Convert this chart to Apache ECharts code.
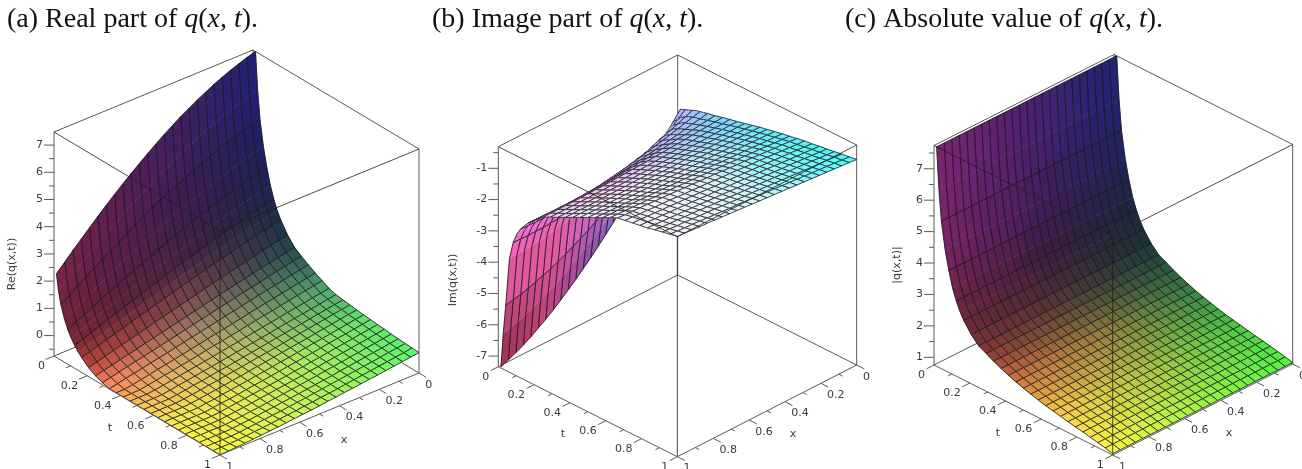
<!DOCTYPE html>
<html><head><meta charset="utf-8"><style>html,body{margin:0;background:#fff}#c{width:1302px;height:469px}</style>
<script src="https://cdn.jsdelivr.net/npm/echarts@6/dist/echarts.min.js"></script></head><body><div id="c"></div>
<script>
const xGrid=[0,.0417,.0833,.125,.1667,.2083,.25,.2917,.3333,.375,.4167,.4583,.5,.5417,.5833,.625,.6667,.7083,.75,.7917,.8333,.875,.9167,.9583,1];
const tGrid=[.015,.028,.0417,.0625,.0833,.1042,.125,.1458,.1667,.2083,.25,.2917,.3333,.375,.4167,.4583,.5,.5417,.5833,.625,.6667,.7083,.75,.7917,.8333,.875,.9167,.9583,1];
const tMinorRows=[1,3,5,7];
const absT=[7.74,6.4,5.45,4.6,4.0,3.5,3.15,2.87,2.65,2.32,2.08,1.96,1.83,1.72,1.62,1.53,1.45,1.38,1.31,1.25,1.20,1.15,1.10,1.05,1.01,.96,.91,.86,.80];
const reQ=[
[7.48,7.39,7.28,7.17,7.04,6.90,6.74,6.58,6.40,6.22,6.02,5.81,5.59,5.36,5.12,4.88,4.62,4.36,4.09,3.81,3.52,3.23,2.94,2.63,2.33],
[6.09,6.01,5.91,5.81,5.69,5.57,5.43,5.29,5.13,4.97,4.80,4.62,4.44,4.24,4.04,3.84,3.62,3.40,3.18,2.95,2.71,2.47,2.22,1.98,1.72],
[5.10,5.01,4.92,4.82,4.72,4.60,4.48,4.35,4.22,4.07,3.93,3.77,3.61,3.44,3.27,3.09,2.90,2.71,2.52,2.32,2.12,1.92,1.71,1.50,1.29],
[4.16,4.08,3.99,3.90,3.80,3.70,3.59,3.47,3.35,3.22,3.09,2.95,2.81,2.67,2.52,2.36,2.21,2.05,1.88,1.72,1.55,1.38,1.20,1.03,.85],
[3.47,3.39,3.31,3.22,3.13,3.03,2.93,2.82,2.71,2.60,2.48,2.36,2.23,2.10,1.97,1.84,1.70,1.56,1.42,1.28,1.13,.98,.83,.68,.53],
[2.89,2.82,2.74,2.66,2.57,2.48,2.38,2.29,2.19,2.09,1.98,1.87,1.76,1.65,1.53,1.41,1.29,1.17,1.05,.92,.80,.67,.54,.41,.28],
[2.46,2.38,2.31,2.23,2.15,2.06,1.98,1.89,1.79,1.70,1.60,1.50,1.40,1.30,1.19,1.09,.98,.87,.76,.65,.54,.43,.32,.20,.09],
[2.11,2.04,1.96,1.89,1.81,1.73,1.65,1.56,1.48,1.39,1.30,1.21,1.12,1.02,.93,.83,.73,.63,.54,.44,.34,.23,.13,.03,-.07],
[1.85,1.78,1.71,1.64,1.56,1.49,1.41,1.33,1.25,1.16,1.08,.99,.90,.81,.72,.63,.54,.45,.36,.26,.17,.08,-.02,-.11,-.20],
[1.44,1.38,1.31,1.24,1.17,1.10,1.02,.95,.87,.80,.72,.64,.56,.48,.40,.32,.24,.15,.07,-.01,-.09,-.17,-.26,-.34,-.42],
[1.14,1.07,1.01,.94,.88,.81,.74,.67,.60,.53,.46,.38,.31,.24,.16,.09,.02,-.06,-.13,-.21,-.28,-.35,-.43,-.50,-.57],
[.96,.90,.84,.78,.71,.64,.58,.51,.44,.37,.30,.23,.16,.09,.02,-.05,-.12,-.19,-.26,-.33,-.39,-.46,-.53,-.60,-.67],
[.80,.74,.68,.61,.55,.49,.43,.36,.30,.23,.17,.10,.03,-.03,-.10,-.16,-.23,-.30,-.36,-.42,-.49,-.55,-.61,-.68,-.74],
[.65,.59,.53,.47,.41,.35,.29,.23,.17,.10,.04,-.02,-.08,-.14,-.21,-.27,-.33,-.39,-.45,-.51,-.57,-.63,-.69,-.74,-.74],
[.52,.46,.40,.35,.29,.23,.17,.12,.06,.00,-.06,-.12,-.18,-.23,-.29,-.35,-.41,-.46,-.52,-.57,-.63,-.68,-.73,-.74,-.74],
[.39,.34,.29,.23,.18,.13,.07,.02,-.03,-.09,-.14,-.20,-.25,-.30,-.36,-.41,-.46,-.51,-.56,-.61,-.66,-.71,-.74,-.74,-.74],
[.31,.26,.21,.16,.11,.06,.01,-.04,-.10,-.15,-.20,-.25,-.30,-.35,-.40,-.45,-.50,-.55,-.59,-.64,-.69,-.73,-.74,-.74,-.74],
[.27,.22,.17,.12,.07,.02,-.03,-.08,-.13,-.18,-.23,-.28,-.33,-.38,-.43,-.47,-.52,-.57,-.61,-.66,-.70,-.74,-.74,-.74,-.74],
[.24,.19,.14,.09,.04,-.01,-.06,-.11,-.16,-.21,-.26,-.30,-.35,-.40,-.45,-.49,-.54,-.58,-.63,-.67,-.71,-.74,-.74,-.74,-.74],
[.20,.16,.11,.06,.01,-.04,-.09,-.14,-.18,-.23,-.28,-.33,-.37,-.42,-.47,-.51,-.56,-.60,-.64,-.68,-.72,-.74,-.74,-.74,-.74],
[.17,.13,.08,.03,-.02,-.07,-.11,-.16,-.21,-.26,-.30,-.35,-.40,-.44,-.49,-.53,-.57,-.61,-.66,-.69,-.73,-.74,-.74,-.74,-.74],
[.15,.10,.05,.00,-.04,-.09,-.14,-.19,-.23,-.28,-.32,-.37,-.41,-.46,-.50,-.54,-.59,-.63,-.66,-.70,-.74,-.74,-.74,-.74,-.74],
[.12,.07,.03,-.02,-.07,-.11,-.16,-.21,-.25,-.30,-.34,-.39,-.43,-.47,-.51,-.55,-.59,-.63,-.67,-.71,-.74,-.74,-.74,-.74,-.74],
[.10,.05,.00,-.04,-.09,-.13,-.18,-.22,-.27,-.31,-.36,-.40,-.44,-.48,-.52,-.56,-.60,-.64,-.67,-.71,-.74,-.74,-.74,-.74,-.74],
[.07,.03,-.02,-.06,-.11,-.15,-.20,-.24,-.28,-.33,-.37,-.41,-.45,-.49,-.53,-.57,-.61,-.64,-.68,-.71,-.74,-.74,-.74,-.74,-.74],
[.05,.01,-.04,-.08,-.12,-.17,-.21,-.25,-.30,-.34,-.38,-.42,-.46,-.50,-.53,-.57,-.60,-.64,-.67,-.70,-.73,-.74,-.74,-.74,-.74],
[.03,-.01,-.05,-.10,-.14,-.18,-.22,-.26,-.30,-.34,-.38,-.42,-.46,-.50,-.53,-.57,-.60,-.63,-.66,-.69,-.72,-.74,-.74,-.74,-.74],
[.02,-.03,-.07,-.11,-.15,-.19,-.23,-.27,-.31,-.35,-.39,-.42,-.46,-.49,-.53,-.56,-.59,-.62,-.65,-.67,-.70,-.72,-.74,-.74,-.74],
[.00,-.04,-.08,-.12,-.16,-.20,-.23,-.27,-.31,-.34,-.38,-.41,-.45,-.48,-.51,-.54,-.57,-.60,-.62,-.65,-.67,-.69,-.71,-.73,-.74]];
const imQ=[
[-2.00,-2.29,-2.58,-2.87,-3.16,-3.44,-3.72,-4.00,-4.27,-4.53,-4.79,-5.04,-5.28,-5.51,-5.73,-5.94,-6.14,-6.33,-6.51,-6.67,-6.83,-6.97,-7.09,-7.20,-7.30],
[-1.97,-2.21,-2.44,-2.68,-2.91,-3.14,-3.37,-3.59,-3.81,-4.02,-4.23,-4.43,-4.62,-4.81,-4.99,-5.15,-5.31,-5.46,-5.60,-5.73,-5.85,-5.95,-6.05,-6.13,-6.20],
[-1.94,-2.13,-2.32,-2.51,-2.69,-2.88,-3.06,-3.24,-3.41,-3.58,-3.75,-3.91,-4.06,-4.21,-4.34,-4.47,-4.60,-4.71,-4.82,-4.91,-5.00,-5.08,-5.15,-5.20,-5.25],
[-1.89,-2.00,-2.12,-2.23,-2.35,-2.46,-2.57,-2.68,-2.78,-2.88,-2.97,-3.06,-3.15,-3.23,-3.31,-3.38,-3.44,-3.50,-3.55,-3.59,-3.63,-3.66,-3.68,-3.69,-3.70],
[-1.84,-1.93,-2.03,-2.12,-2.21,-2.30,-2.39,-2.47,-2.55,-2.63,-2.70,-2.77,-2.83,-2.89,-2.94,-2.99,-3.03,-3.07,-3.10,-3.12,-3.14,-3.14,-3.15,-3.14,-3.13],
[-1.79,-1.86,-1.94,-2.01,-2.09,-2.16,-2.23,-2.30,-2.36,-2.42,-2.48,-2.54,-2.59,-2.63,-2.67,-2.71,-2.74,-2.77,-2.79,-2.80,-2.81,-2.82,-2.82,-2.81,-2.80],
[-1.76,-1.82,-1.88,-1.95,-2.01,-2.07,-2.13,-2.18,-2.24,-2.29,-2.34,-2.38,-2.42,-2.46,-2.49,-2.52,-2.55,-2.57,-2.58,-2.60,-2.60,-2.60,-2.60,-2.59,-2.58],
[-1.73,-1.78,-1.84,-1.89,-1.95,-2.00,-2.05,-2.10,-2.14,-2.19,-2.23,-2.27,-2.30,-2.33,-2.36,-2.39,-2.41,-2.42,-2.43,-2.44,-2.45,-2.45,-2.44,-2.43,-2.42],
[-1.70,-1.75,-1.79,-1.84,-1.89,-1.93,-1.97,-2.01,-2.05,-2.09,-2.12,-2.16,-2.18,-2.21,-2.23,-2.25,-2.27,-2.28,-2.29,-2.30,-2.30,-2.30,-2.29,-2.28,-2.27],
[-1.65,-1.68,-1.71,-1.74,-1.77,-1.79,-1.82,-1.85,-1.87,-1.90,-1.92,-1.94,-1.96,-1.98,-2.00,-2.01,-2.02,-2.03,-2.04,-2.05,-2.05,-2.05,-2.05,-2.04,-2.04],
[-1.59,-1.61,-1.63,-1.64,-1.66,-1.68,-1.70,-1.71,-1.73,-1.74,-1.76,-1.77,-1.78,-1.79,-1.80,-1.81,-1.82,-1.82,-1.83,-1.83,-1.84,-1.84,-1.84,-1.84,-1.84],
[-1.53,-1.55,-1.56,-1.57,-1.58,-1.60,-1.61,-1.62,-1.63,-1.64,-1.65,-1.66,-1.67,-1.68,-1.69,-1.70,-1.70,-1.71,-1.71,-1.72,-1.72,-1.72,-1.72,-1.72,-1.72],
[-1.48,-1.48,-1.49,-1.50,-1.51,-1.52,-1.52,-1.53,-1.54,-1.55,-1.55,-1.56,-1.57,-1.57,-1.58,-1.58,-1.59,-1.59,-1.60,-1.60,-1.60,-1.61,-1.61,-1.61,-1.61],
[-1.42,-1.42,-1.43,-1.43,-1.43,-1.44,-1.44,-1.45,-1.45,-1.45,-1.46,-1.46,-1.46,-1.47,-1.47,-1.47,-1.48,-1.48,-1.48,-1.48,-1.49,-1.49,-1.49,-1.49,-1.49],
[-1.36,-1.36,-1.36,-1.36,-1.36,-1.36,-1.36,-1.36,-1.36,-1.36,-1.37,-1.37,-1.37,-1.37,-1.37,-1.37,-1.37,-1.37,-1.37,-1.37,-1.37,-1.37,-1.37,-1.37,-1.37],
[-1.30,-1.30,-1.30,-1.29,-1.29,-1.29,-1.29,-1.28,-1.28,-1.28,-1.28,-1.28,-1.27,-1.27,-1.27,-1.27,-1.27,-1.26,-1.26,-1.26,-1.26,-1.26,-1.26,-1.25,-1.25],
[-1.25,-1.24,-1.24,-1.23,-1.23,-1.22,-1.22,-1.21,-1.21,-1.20,-1.20,-1.19,-1.19,-1.18,-1.18,-1.17,-1.17,-1.16,-1.16,-1.15,-1.15,-1.15,-1.14,-1.14,-1.14],
[-1.20,-1.19,-1.18,-1.17,-1.16,-1.16,-1.15,-1.15,-1.14,-1.13,-1.12,-1.12,-1.11,-1.10,-1.09,-1.09,-1.08,-1.07,-1.06,-1.06,-1.05,-1.04,-1.04,-1.03,-1.02],
[-1.15,-1.14,-1.13,-1.12,-1.10,-1.09,-1.08,-1.07,-1.06,-1.04,-1.03,-1.02,-1.01,-1.00,-.99,-.98,-.97,-.96,-.95,-.94,-.93,-.92,-.91,-.91,-.90],
[-1.11,-1.09,-1.08,-1.06,-1.04,-1.03,-1.01,-1.00,-.98,-.97,-.95,-.94,-.92,-.91,-.90,-.88,-.87,-.86,-.85,-.83,-.82,-.81,-.80,-.79,-.78],
[-1.06,-1.04,-1.02,-1.01,-.99,-.97,-.95,-.93,-.92,-.90,-.88,-.86,-.85,-.83,-.81,-.80,-.78,-.77,-.75,-.74,-.72,-.71,-.70,-.69,-.67],
[-1.02,-1.01,-.99,-.97,-.95,-.93,-.91,-.90,-.88,-.86,-.84,-.83,-.81,-.79,-.78,-.76,-.75,-.73,-.71,-.70,-.69,-.67,-.66,-.64,-.63],
[-.99,-.97,-.95,-.93,-.91,-.90,-.88,-.86,-.84,-.83,-.81,-.79,-.77,-.76,-.74,-.72,-.71,-.69,-.68,-.66,-.65,-.63,-.62,-.60,-.59],
[-.95,-.93,-.91,-.90,-.88,-.86,-.84,-.82,-.81,-.79,-.77,-.75,-.74,-.72,-.70,-.69,-.67,-.65,-.64,-.62,-.61,-.59,-.58,-.56,-.55],
[-.92,-.90,-.88,-.86,-.84,-.82,-.81,-.79,-.77,-.75,-.73,-.72,-.70,-.68,-.66,-.65,-.63,-.61,-.60,-.58,-.57,-.55,-.54,-.52,-.51],
[-.88,-.86,-.84,-.82,-.80,-.78,-.77,-.75,-.73,-.71,-.69,-.67,-.66,-.64,-.62,-.60,-.59,-.57,-.55,-.53,-.52,-.50,-.49,-.47,-.45],
[-.84,-.82,-.80,-.78,-.77,-.75,-.73,-.71,-.69,-.67,-.65,-.63,-.61,-.60,-.58,-.56,-.54,-.52,-.50,-.49,-.47,-.45,-.44,-.42,-.40],
[-.81,-.79,-.77,-.75,-.73,-.71,-.69,-.67,-.65,-.63,-.61,-.59,-.57,-.55,-.53,-.51,-.50,-.48,-.46,-.44,-.42,-.40,-.39,-.37,-.35],
[-.77,-.75,-.73,-.71,-.69,-.67,-.65,-.63,-.61,-.59,-.57,-.55,-.53,-.51,-.49,-.47,-.45,-.43,-.41,-.39,-.37,-.36,-.34,-.32,-.30]];
const abQ=absT.map(v=>xGrid.map(()=>v));
const colorT=[0,.06,.12,.2,.3,.45,.7,1], colorX=[0,.25,.5,.75,1];
const colorsA=[[[35,35,130],[55,35,115],[75,30,100],[100,30,88],[125,38,78]],
[[30,30,95],[50,30,85],[70,30,80],[90,30,70],[115,35,60]],
[[28,40,75],[50,35,70],[75,35,65],[95,35,60],[125,40,55]],
[[30,55,72],[70,60,75],[120,70,75],[150,65,68],[185,70,60]],
[[45,95,90],[95,110,95],[150,125,105],[200,125,100],[250,130,95]],
[[78,165,112],[125,170,105],[185,180,108],[225,180,100],[250,180,90]],
[[98,225,112],[150,232,100],[200,230,95],[235,230,85],[245,235,80]],
[[90,245,110],[140,245,100],[185,245,95],[225,245,85],[250,250,70]]];
const colorsB=[[[165,170,255],[120,110,200],[110,65,150],[170,55,105],[115,25,40]],
[[175,190,255],[190,160,245],[215,110,210],[235,95,165],[240,95,175]],
[[150,195,255],[190,175,250],[225,150,240],[240,115,225],[240,115,225]],
[[135,205,255],[180,190,250],[225,180,245],[245,170,240],[235,165,245]],
[[120,215,255],[170,205,250],[225,205,245],[245,205,245],[235,205,250]],
[[100,230,250],[170,225,250],[225,230,250],[245,235,250],[240,235,250]],
[[80,245,250],[150,240,250],[215,240,250],[240,240,250],[240,240,250]],
[[70,250,250],[130,250,250],[200,245,250],[235,245,250],[240,240,245]]];
const colorsC=[[[35,35,130],[55,35,130],[80,35,125],[105,35,125],[125,35,120]],
[[30,35,90],[50,32,92],[70,30,95],[95,32,98],[120,35,100]],
[[25,40,60],[42,35,62],[60,30,65],[85,32,68],[110,35,70]],
[[28,50,60],[48,48,58],[70,45,55],[90,42,55],[110,42,55]],
[[38,85,65],[65,82,60],[95,80,55],[118,70,55],[140,60,55]],
[[55,130,72],[100,130,68],[150,130,65],[180,122,65],[205,115,65]],
[[70,200,70],[118,198,70],[170,195,70],[215,200,72],[250,205,75]],
[[85,245,70],[120,245,70],[160,245,70],[205,248,70],[250,250,70]]];
const zTicksA=[0,1,2,3,4,5,6,7], zTicksB=[-7,-6,-5,-4,-3,-2,-1], zTicksC=[1,2,3,4,5,6,7];
const tickVals=[0,.2,.4,.6,.8,1], tickLabels=['0','0.2','0.4','0.6','0.8','1'];
const panels=[
 {rows:reQ,colors:colorsA,L:[54,356],R:[419,373],F:[220,455],H:224,zMin:-.75,zMax:7.48,zTicks:zTicksA,zStep:.5,zName:'Re(q(x,t))',zNameX:12.5,zNameY:264,tName:[110,428],xName:[344,440],title:'a',titleText:'Real part of ',tx:7},
 {rows:imQ,colors:colorsB,L:[498.3,366.7],R:[856.7,365],F:[677.3,456.7],H:220,zMin:-7.34,zMax:-.31,zTicks:zTicksB,zStep:.5,zName:'Im(q(x,t))',zNameX:453,zNameY:280,tName:[563,434],xName:[793,434],title:'b',titleText:'Image part of ',tx:432},
 {rows:abQ,colors:colorsC,L:[934,365],R:[1292.7,364],F:[1112.7,455],H:219.5,zMin:.755,zMax:7.74,zTicks:zTicksC,zStep:.5,zName:'|q(x,t)|',zNameX:897,zNameY:265,tName:[998,433],xName:[1229,433],title:'c',titleText:'Absolute value of ',tx:845}];
const Nx=xGrid.length,Nt=tGrid.length;
function proj(p,x,t,z){const n=(z-p.zMin)/(p.zMax-p.zMin);
 const Bx=p.L[0]+p.R[0]-p.F[0],By=p.L[1]+p.R[1]-p.F[1];
 return [Bx+x*(p.L[0]-Bx)+t*(p.R[0]-Bx),By+x*(p.L[1]-By)+t*(p.R[1]-By)-n*p.H];}
function colorAt(p,x,t){let a=0;while(a<colorT.length-2&&t>colorT[a+1])a++;let b=0;while(b<colorX.length-2&&x>colorX[b+1])b++;
 const u=Math.min(1,(t-colorT[a])/(colorT[a+1]-colorT[a])),v=(x-colorX[b])/(colorX[b+1]-colorX[b]);
 const c=[0,1,2].map(k=>Math.round((1-u)*((1-v)*p.colors[a][b][k]+v*p.colors[a][b+1][k])+u*((1-v)*p.colors[a+1][b][k]+v*p.colors[a+1][b+1][k])));
 return `rgb(${c})`;}
const LINE='#5a5a5a',TXT='#3a3a3a',FONT='11px "DejaVu Sans"',MESH='rgba(25,25,25,.8)';
function seg(api,a,b,col,w){const A=api.coord(a),B=api.coord(b);return {type:'line',shape:{x1:A[0],y1:A[1],x2:B[0],y2:B[1]},style:{stroke:col||LINE,lineWidth:w||1,fill:null}};}
function txt(api,a,s,align,rot){const A=api.coord(a);const o={type:'text',x:A[0],y:A[1],style:{text:s,fill:TXT,font:FONT,align:align||'center',verticalAlign:'middle'}};if(rot)o.rotation=rot;return o;}
function surfaceSeries(p){const data=[];for(let j=0;j<Nt-1;j++)for(let i=0;i<Nx-1;i++)data.push([i,j]);
 return {type:'custom',coordinateSystem:'cartesian2d',silent:true,clip:false,animation:false,z:3,data,encode:{x:0,y:1},renderItem(_,api){const i=api.value(0),j=api.value(1);
  const c=[[i,j],[i+1,j],[i+1,j+1],[i,j+1]].map(([a,b])=>api.coord(proj(p,xGrid[a],tGrid[b],p.rows[b][a])));
  const col=colorAt(p,(xGrid[i]+xGrid[i+1])/2,(tGrid[j]+tGrid[j+1])/2);
  const ln=(a,b)=>({type:'line',shape:{x1:a[0],y1:a[1],x2:b[0],y2:b[1]},style:{stroke:MESH,lineWidth:1,fill:null}});
  const ch=[{type:'polygon',shape:{points:c},style:{fill:col,stroke:col,lineWidth:.5}},ln(c[1],c[2]),ln(c[3],c[0])];
  if(!tMinorRows.includes(j))ch.push(ln(c[0],c[1]));if(!tMinorRows.includes(j+1))ch.push(ln(c[3],c[2]));
  return {type:'group',children:ch};}};}
function backSeries(p){return {type:'custom',coordinateSystem:'cartesian2d',silent:true,clip:false,animation:false,z:2,data:[[0,0]],encode:{x:0,y:1},renderItem(_,api){
 const a=p.zMin,b=p.zMax,ch=[];const P=(x,t,z)=>proj(p,x,t,z);
 ch.push(seg(api,P(0,0,a),P(1,0,a)),seg(api,P(0,0,a),P(0,1,a)),seg(api,P(0,0,a),P(0,0,b)),seg(api,P(1,0,b),P(0,0,b)),seg(api,P(0,1,b),P(0,0,b)),seg(api,P(0,1,a),P(0,1,b)),seg(api,P(1,0,a),P(1,0,b)));
 return {type:'group',children:ch};}};}
function frontSeries(p){return {type:'custom',coordinateSystem:'cartesian2d',silent:true,clip:false,animation:false,z:4,data:[[0,0]],encode:{x:0,y:1},renderItem(_,api){
 const a=p.zMin,b=p.zMax,ch=[];const P=(x,t,z)=>proj(p,x,t,z);
 const dk='rgba(30,30,30,.8)';
 ch.push(seg(api,P(1,1,a),P(1,1,b),dk),seg(api,P(1,0,b),P(1,1,b),dk),seg(api,P(0,1,b),P(1,1,b),dk),seg(api,P(1,0,a),P(1,1,a)),seg(api,P(0,1,a),P(1,1,a)));
 const L=P(1,0,a);
 const topZ=Math.floor(b/p.zStep)*p.zStep;
 for(let z=Math.ceil(a/p.zStep)*p.zStep;z<=topZ+1e-6;z+=p.zStep){const q=P(1,0,z),maj=Math.abs(z-Math.round(z))<1e-6;
  ch.push(seg(api,q,[q[0]-(maj?10:5),q[1]]));}
 p.zTicks.forEach(z=>{const q=P(1,0,z);ch.push(txt(api,[q[0]-11,q[1]],String(z),'right'));});
 const Bx=P(0,0,a);const ex=[L[0]-Bx[0],L[1]-Bx[1]],Rr=P(0,1,a);const et=[Rr[0]-Bx[0],Rr[1]-Bx[1]];
 for(let k=0;k<=10;k++){const t=k/10,q=P(1,t,a),m=k%2==0?.042:.022;ch.push(seg(api,q,[q[0]+ex[0]*m,q[1]+ex[1]*m]));}
 for(let k=0;k<=10;k++){const x=k/10,q=P(x,1,a),m=k%2==0?.042:.022;ch.push(seg(api,q,[q[0]+et[0]*m,q[1]+et[1]*m]));}
 tickVals.forEach((t,k)=>{const q=P(1,t,a);ch.push(txt(api,[q[0]-9,q[1]+10.5],tickLabels[k],'right'));});
 tickVals.forEach((x,k)=>{const q=P(x,1,a);ch.push(txt(api,[q[0]+6.3,q[1]+11.7],tickLabels[k],'left'));});
 ch.push(txt(api,p.tName,'t'),txt(api,p.xName,'x'),txt(api,[p.zNameX,p.zNameY],p.zName,'center',Math.PI/2));
 return {type:'group',children:ch};}};}
const rich={r:{fontFamily:'"Liberation Serif"',fontSize:28,fontWeight:'normal',color:'#111'},i:{fontFamily:'"Liberation Serif"',fontSize:28,fontWeight:'normal',fontStyle:'italic',color:'#111'}};
const title=panels.map(p=>({left:p.tx-5,top:1,textStyle:{rich,fontWeight:'normal'},text:`{r|(${p.title}) ${p.titleText}}{i|q}{r|(}{i|x}{r|, }{i|t}{r|).}`}));
const chart=echarts.init(document.getElementById('c'),null,{renderer:'canvas'});
chart.setOption({animation:false,backgroundColor:'#fff',title,
 grid:{left:0,right:0,top:0,bottom:0},
 xAxis:{type:'value',min:0,max:1302,show:false},yAxis:{type:'value',min:0,max:469,inverse:true,show:false},
 series:panels.flatMap(p=>[backSeries(p),surfaceSeries(p),frontSeries(p)])});
</script></body></html>
